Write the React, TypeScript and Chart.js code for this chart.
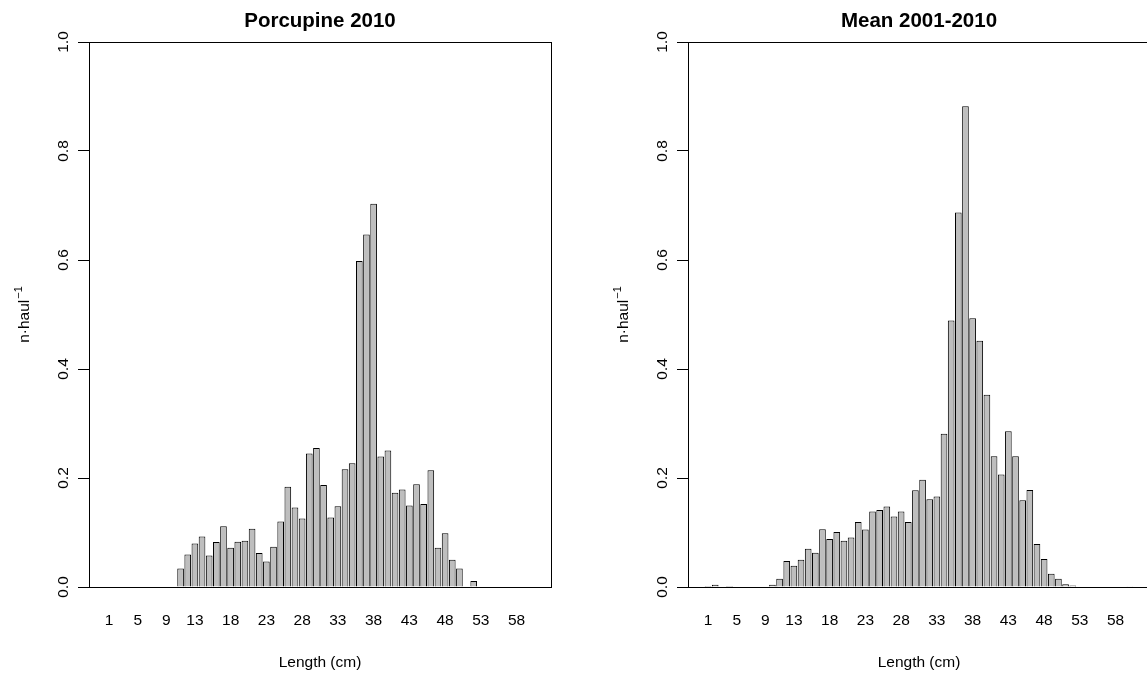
import { useEffect, useRef } from "react"
import { Chart, registerables } from "chart.js"

Chart.register(...registerables)

const FONT = "'Liberation Sans', Arial, Helvetica, sans-serif"

// length classes (cm)
const lengths = [
  1, 2, 3, 4, 5, 6, 7, 8, 9, 10, 11, 12, 13, 14, 15, 16, 17, 18, 19, 20,
  21, 22, 23, 24, 25, 26, 27, 28, 29, 30, 31, 32, 33, 34, 35, 36, 37, 38, 39, 40,
  41, 42, 43, 44, 45, 46, 47, 48, 49, 50, 51, 52, 53, 54, 55, 56, 57, 58, 59, 60,
]

// labels R managed to fit under the bars
const xTickLabels = [1, 5, 9, 13, 18, 23, 28, 33, 38, 43, 48, 53, 58]
const yTicks = [0, 0.2, 0.4, 0.6, 0.8, 1.0]

const porcupine2010 = [
  0, 0, 0, 0, 0, 0, 0, 0, 0, 0,
  0.034, 0.0595, 0.08, 0.0925, 0.0576, 0.0827, 0.1115, 0.072, 0.083, 0.085,
  0.107, 0.0625, 0.047, 0.074, 0.12, 0.184, 0.146, 0.1256, 0.245, 0.255,
  0.187, 0.1275, 0.148, 0.216, 0.227, 0.598, 0.647, 0.703, 0.2395, 0.2505,
  0.173, 0.179, 0.1495, 0.1886, 0.1525, 0.214, 0.072, 0.0986, 0.05, 0.034,
  0, 0.011, 0, 0, 0, 0, 0, 0, 0, 0,
]

const mean2001to2010 = [
  0.002, 0.004, 0, 0.002, 0, 0, 0, 0, 0, 0.004,
  0.0153, 0.0478, 0.039, 0.05, 0.07, 0.063, 0.106, 0.088, 0.101, 0.085,
  0.0907, 0.1194, 0.1054, 0.1385, 0.1415, 0.1477, 0.1293, 0.1385, 0.1194, 0.1776,
  0.197, 0.161, 0.166, 0.281, 0.489, 0.687, 0.882, 0.493, 0.452, 0.3527,
  0.24, 0.2065, 0.286, 0.24, 0.159, 0.178, 0.079, 0.0515, 0.0245, 0.0153,
  0.005, 0.0026, 0, 0, 0, 0, 0, 0, 0, 0.0015,
]

const xTitle = "Length (cm)"

function decorations(title: string) {
  return {
    id: "decorations",
    afterDraw(chart: Chart) {
      const { ctx, chartArea: a } = chart
      const yScale = chart.scales.y
      const cx = (a.left + a.right) / 2
      ctx.save()

      // box around the plot region
      ctx.strokeStyle = "#000"
      ctx.lineWidth = 1
      ctx.strokeRect(
        Math.round(a.left) + 0.5,
        Math.round(a.top) + 0.5,
        Math.round(a.right - a.left),
        Math.round(a.bottom - a.top)
      )

      ctx.fillStyle = "#000"
      ctx.textAlign = "center"
      ctx.textBaseline = "alphabetic"

      // y tick labels, parallel to the axis
      ctx.font = `15.5px ${FONT}`
      yTicks.forEach((v) => {
        ctx.save()
        ctx.translate(a.left - 21, yScale.getPixelForValue(v))
        ctx.rotate(-Math.PI / 2)
        ctx.fillText(v.toFixed(1), 0, 0)
        ctx.restore()
      })

      // main title
      ctx.font = `bold 20.5px ${FONT}`
      ctx.fillText(title, cx, a.top - 15.5)

      // x axis title
      ctx.font = `15.5px ${FONT}`
      ctx.fillText(xTitle, cx, a.bottom + 80)

      // y axis title: n·haul^-1
      const base = "n·haul"
      const sup = "\u22121"
      ctx.font = `15.5px ${FONT}`
      const w1 = ctx.measureText(base).width
      ctx.font = `11px ${FONT}`
      const w2 = ctx.measureText(sup).width
      const total = w1 + 1 + w2
      ctx.save()
      ctx.translate(a.left - 60.5, (a.top + a.bottom) / 2)
      ctx.rotate(-Math.PI / 2)
      ctx.textAlign = "left"
      ctx.font = `15.5px ${FONT}`
      ctx.fillText(base, -total / 2, 0)
      ctx.font = `11px ${FONT}`
      ctx.fillText(sup, -total / 2 + w1 + 1, -6.5)
      ctx.restore()

      ctx.restore()
    },
  }
}

function LengthHistogram({ title, values, left }: { title: string; values: number[]; left: number }) {
  const chartRef = useRef<HTMLCanvasElement>(null)
  const chartInstance = useRef<Chart | null>(null)

  useEffect(() => {
    if (!chartRef.current) return
    if (chartInstance.current) chartInstance.current.destroy()

    const ctx = chartRef.current.getContext("2d")
    if (!ctx) return

    chartInstance.current = new Chart(ctx, {
      type: "bar",
      data: {
        datasets: [
          {
            data: values.map((v, i) => ({ x: lengths[i], y: v })),
            backgroundColor: "#bebebe",
            borderColor: "#000000",
            borderWidth: 1,
            borderSkipped: "start",
            barPercentage: 0.93,
            categoryPercentage: 1,
          },
        ],
      },
      options: {
        animation: false,
        responsive: true,
        maintainAspectRatio: false,
        devicePixelRatio: 1,
        layout: { padding: { left: 0, right: 22, top: 42, bottom: 0 } },
        scales: {
          x: {
            type: "linear",
            offset: false,
            min: -1.81,
            max: 62.81,
            grid: { display: false, drawTicks: false },
            border: { display: true, color: "#000", width: 1 },
            ticks: {
              color: "#000",
              font: { family: FONT, size: 15.5 },
              padding: 24,
              autoSkip: false,
              maxRotation: 0,
              callback: (v) => String(v),
            },
            afterBuildTicks: (axis) => {
              axis.ticks = xTickLabels.map((v) => ({ value: v }))
            },
            afterFit: (axis) => {
              axis.height = 90
            },
          },
          y: {
            type: "linear",
            min: 0,
            max: 1,
            grid: { drawOnChartArea: false, drawTicks: true, tickLength: 11, color: "#000", lineWidth: 1 },
            border: { display: true, color: "#000", width: 1 },
            ticks: { display: false, stepSize: 0.2 },
            afterBuildTicks: (axis) => {
              axis.ticks = yTicks.map((v) => ({ value: v }))
            },
            afterFit: (axis) => {
              axis.width = 89
            },
          },
        },
        plugins: {
          legend: { display: false },
          tooltip: { enabled: false },
          title: { display: false },
        },
      },
      plugins: [decorations(title)],
    })

    return () => {
      if (chartInstance.current) {
        chartInstance.current.destroy()
        chartInstance.current = null
      }
    }
  }, [title, values])

  return (
    <div style={{ position: "absolute", left, top: 0, width: 573, height: 677 }}>
      <canvas ref={chartRef} />
    </div>
  )
}

export default function App() {
  return (
    <div
      style={{
        position: "absolute",
        left: 0,
        top: 0,
        width: 1147,
        height: 677,
        overflow: "hidden",
        background: "#fff",
      }}
    >
      <LengthHistogram title="Porcupine 2010" values={porcupine2010} left={0} />
      <LengthHistogram title="Mean 2001-2010" values={mean2001to2010} left={599} />
    </div>
  )
}
